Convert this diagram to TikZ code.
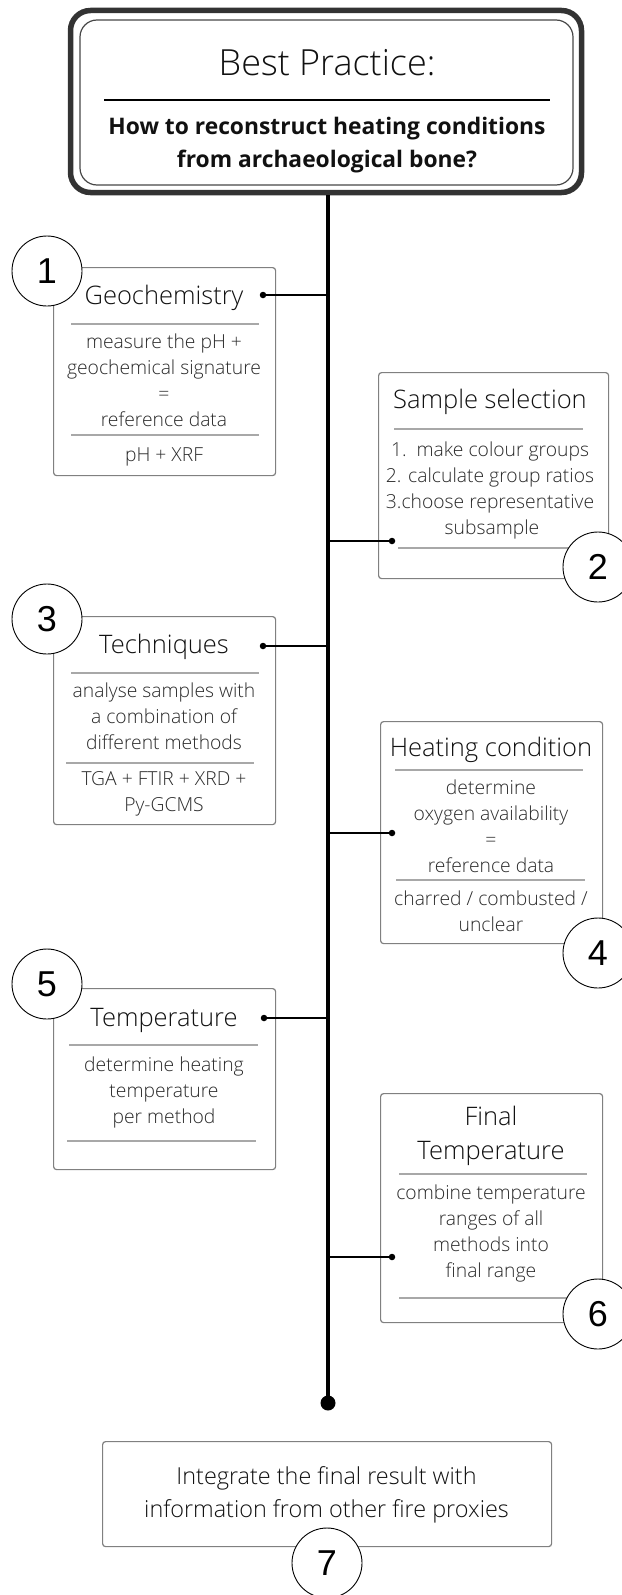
\documentclass[tikz,border=0pt]{standalone}
\usepackage{fontspec}
\setmainfont{Open Sans}
\newfontfamily\lightfont{Open Sans Light}
\newfontfamily\numfont{Liberation Sans}
\definecolor{boxgray}{HTML}{808080}
\definecolor{sepgray}{HTML}{A8A8A8}
\definecolor{titlecol}{HTML}{111111}
\definecolor{bodycol}{HTML}{2A2A2A}
\definecolor{headdark}{HTML}{333333}
\begin{document}
\begin{tikzpicture}[x=1pt,y=-1pt,
  box/.style={draw=boxgray,line width=1.2pt,rounded corners=3pt,anchor=north west,inner sep=0pt},
  sep/.style={draw=sepgray,line width=1.1pt},
  ttl/.style={font=\lightfont\fontsize{25.5}{34}\selectfont,text=titlecol,align=center,inner sep=0pt},
  bodytxt/.style={font=\lightfont\fontsize{19.3}{26}\selectfont,text=bodycol,align=center,inner sep=0pt},
  num/.style={circle,draw=black,line width=0.9pt,fill=white,minimum size=70pt,inner sep=0pt,font=\numfont\fontsize{36}{36}\selectfont},
  dotnode/.style={circle,fill=black,minimum size=6.5pt,inner sep=0pt},
  conn/.style={line width=1.4pt,black},
  spine/.style={line width=4pt,black},
  bigdot/.style={circle,fill=black,minimum size=15pt,inner sep=0pt}
]
\useasboundingbox (0,0) rectangle (621,1595);
\fill[white] (0,0) rectangle (621,1595);

% header
\node[draw=headdark,line width=5.5pt,rounded corners=20pt,minimum width=511pt,minimum height=182pt,inner sep=0pt] (head) at (326,101.5) {};
\node[draw=headdark!90,line width=1.2pt,rounded corners=17pt,minimum width=493pt,minimum height=165pt,inner sep=0pt] (headin) at (326.5,102.5) {};
\node[font=\lightfont\fontsize{36}{40}\selectfont,text=titlecol,inner sep=0pt] (htitle) at (327,63) {Best Practice:};
\draw[line width=1.6pt,black] (104,100) -- (550,100);
\node[font=\bfseries\fontsize{22.8}{33}\selectfont,text=titlecol,align=center,inner sep=0pt] (hq) at (327,145) {How to reconstruct heating conditions\\from archaeological bone?};

% spine
\coordinate (sTop) at (328,195);
\node[bigdot] (sEnd) at (328,1403) {};
\draw[spine] (sTop) -- (sEnd.center);

% box 1
\node[box,minimum width=222pt,minimum height=208pt] (b1) at (53,267) {};
\node[ttl] (t1) at (164,298) {Geochemistry};
\draw[sep] (71,324) -- (259,324);
\node[bodytxt] (c1) at (164,380) {measure the pH +\\geochemical signature\\=\\reference data};
\draw[sep] (71,435) -- (259,435);
\node[bodytxt] (e1) at (164,457) {pH + XRF};
\node[dotnode] (d1) at (263,295) {};
\draw[conn] (d1.center) -- (d1 -| sTop);
\node[num] (n1) at (47,271) {1};

% box 2
\node[box,minimum width=230pt,minimum height=206pt] (b2) at (378,372) {};
\node[ttl] (t2) at (490,402) {Sample selection};
\draw[sep] (394,429) -- (583,429);
\node[bodytxt] (c2) at (490,490) {1.\ \ make colour groups\\2. calculate group ratios\\3.choose representative\\\hspace*{4pt}subsample};
\draw[sep] (398,548) -- (583,548);
\node[dotnode] (d2) at (392,541) {};
\draw[conn] (d2.center) -- (d2 -| sTop);
\node[num] (n2) at (598,567) {2};

% box 3
\node[box,minimum width=222pt,minimum height=208pt] (b3) at (53,616) {};
\node[ttl] (t3) at (164,647) {Techniques};
\draw[sep] (71,673) -- (259,673);
\node[bodytxt] (c3) at (164,716) {analyse samples with\\a combination of\\different methods};
\draw[sep] (66,763) -- (254,763);
\node[bodytxt] (e3) at (164,794) {TGA + FTIR + XRD +\\Py-GCMS};
\node[dotnode] (d3) at (263,646) {};
\draw[conn] (d3.center) -- (d3 -| sTop);
\node[num] (n3) at (47,619) {3};

% box 4
\node[box,minimum width=222pt,minimum height=222pt] (b4) at (380,721) {};
\node[ttl] (t4) at (491,750) {Heating condition};
\draw[sep] (395,770) -- (583,770);
\node[bodytxt] (c4) at (491,826) {determine\\oxygen availability\\=\\reference data};
\draw[sep] (396,880) -- (585,880);
\node[bodytxt] (e4) at (491,911) {charred / combusted /\\unclear};
\node[dotnode] (d4) at (392,833) {};
\draw[conn] (d4.center) -- (d4 -| sTop);
\node[num] (n4) at (598,953) {4};

% box 5
\node[box,minimum width=222pt,minimum height=181pt] (b5) at (53,988) {};
\node[ttl] (t5) at (164,1020) {Temperature};
\draw[sep] (69,1045) -- (258,1045);
\node[bodytxt] (c5) at (164,1092) {determine heating\\temperature\\per method};
\draw[sep] (67,1141) -- (256,1141);
\node[dotnode] (d5) at (264,1018) {};
\draw[conn] (d5.center) -- (d5 -| sTop);
\node[num] (n5) at (47,984) {5};

% box 6
\node[box,minimum width=222pt,minimum height=229pt] (b6) at (380,1093) {};
\node[ttl] (t6) at (491,1136) {Final\\Temperature};
\draw[sep] (399,1174) -- (587,1174);
\node[bodytxt] (c6) at (491,1233) {combine temperature\\ranges of all\\methods into\\final range};
\draw[sep] (399,1298) -- (590,1298);
\node[dotnode] (d6) at (392,1257) {};
\draw[conn] (d6.center) -- (d6 -| sTop);
\node[num] (n6) at (598,1314) {6};

% box 7
\node[box,minimum width=449pt,minimum height=105pt] (b7) at (102,1441) {};
\node[font=\lightfont\fontsize{23.4}{33}\selectfont,text=titlecol,align=center,inner sep=0pt] (c7) at (326.5,1495) {Integrate the final result with\\information from other fire proxies};
\node[num] (n7) at (327,1563) {7};
\end{tikzpicture}
\end{document}
